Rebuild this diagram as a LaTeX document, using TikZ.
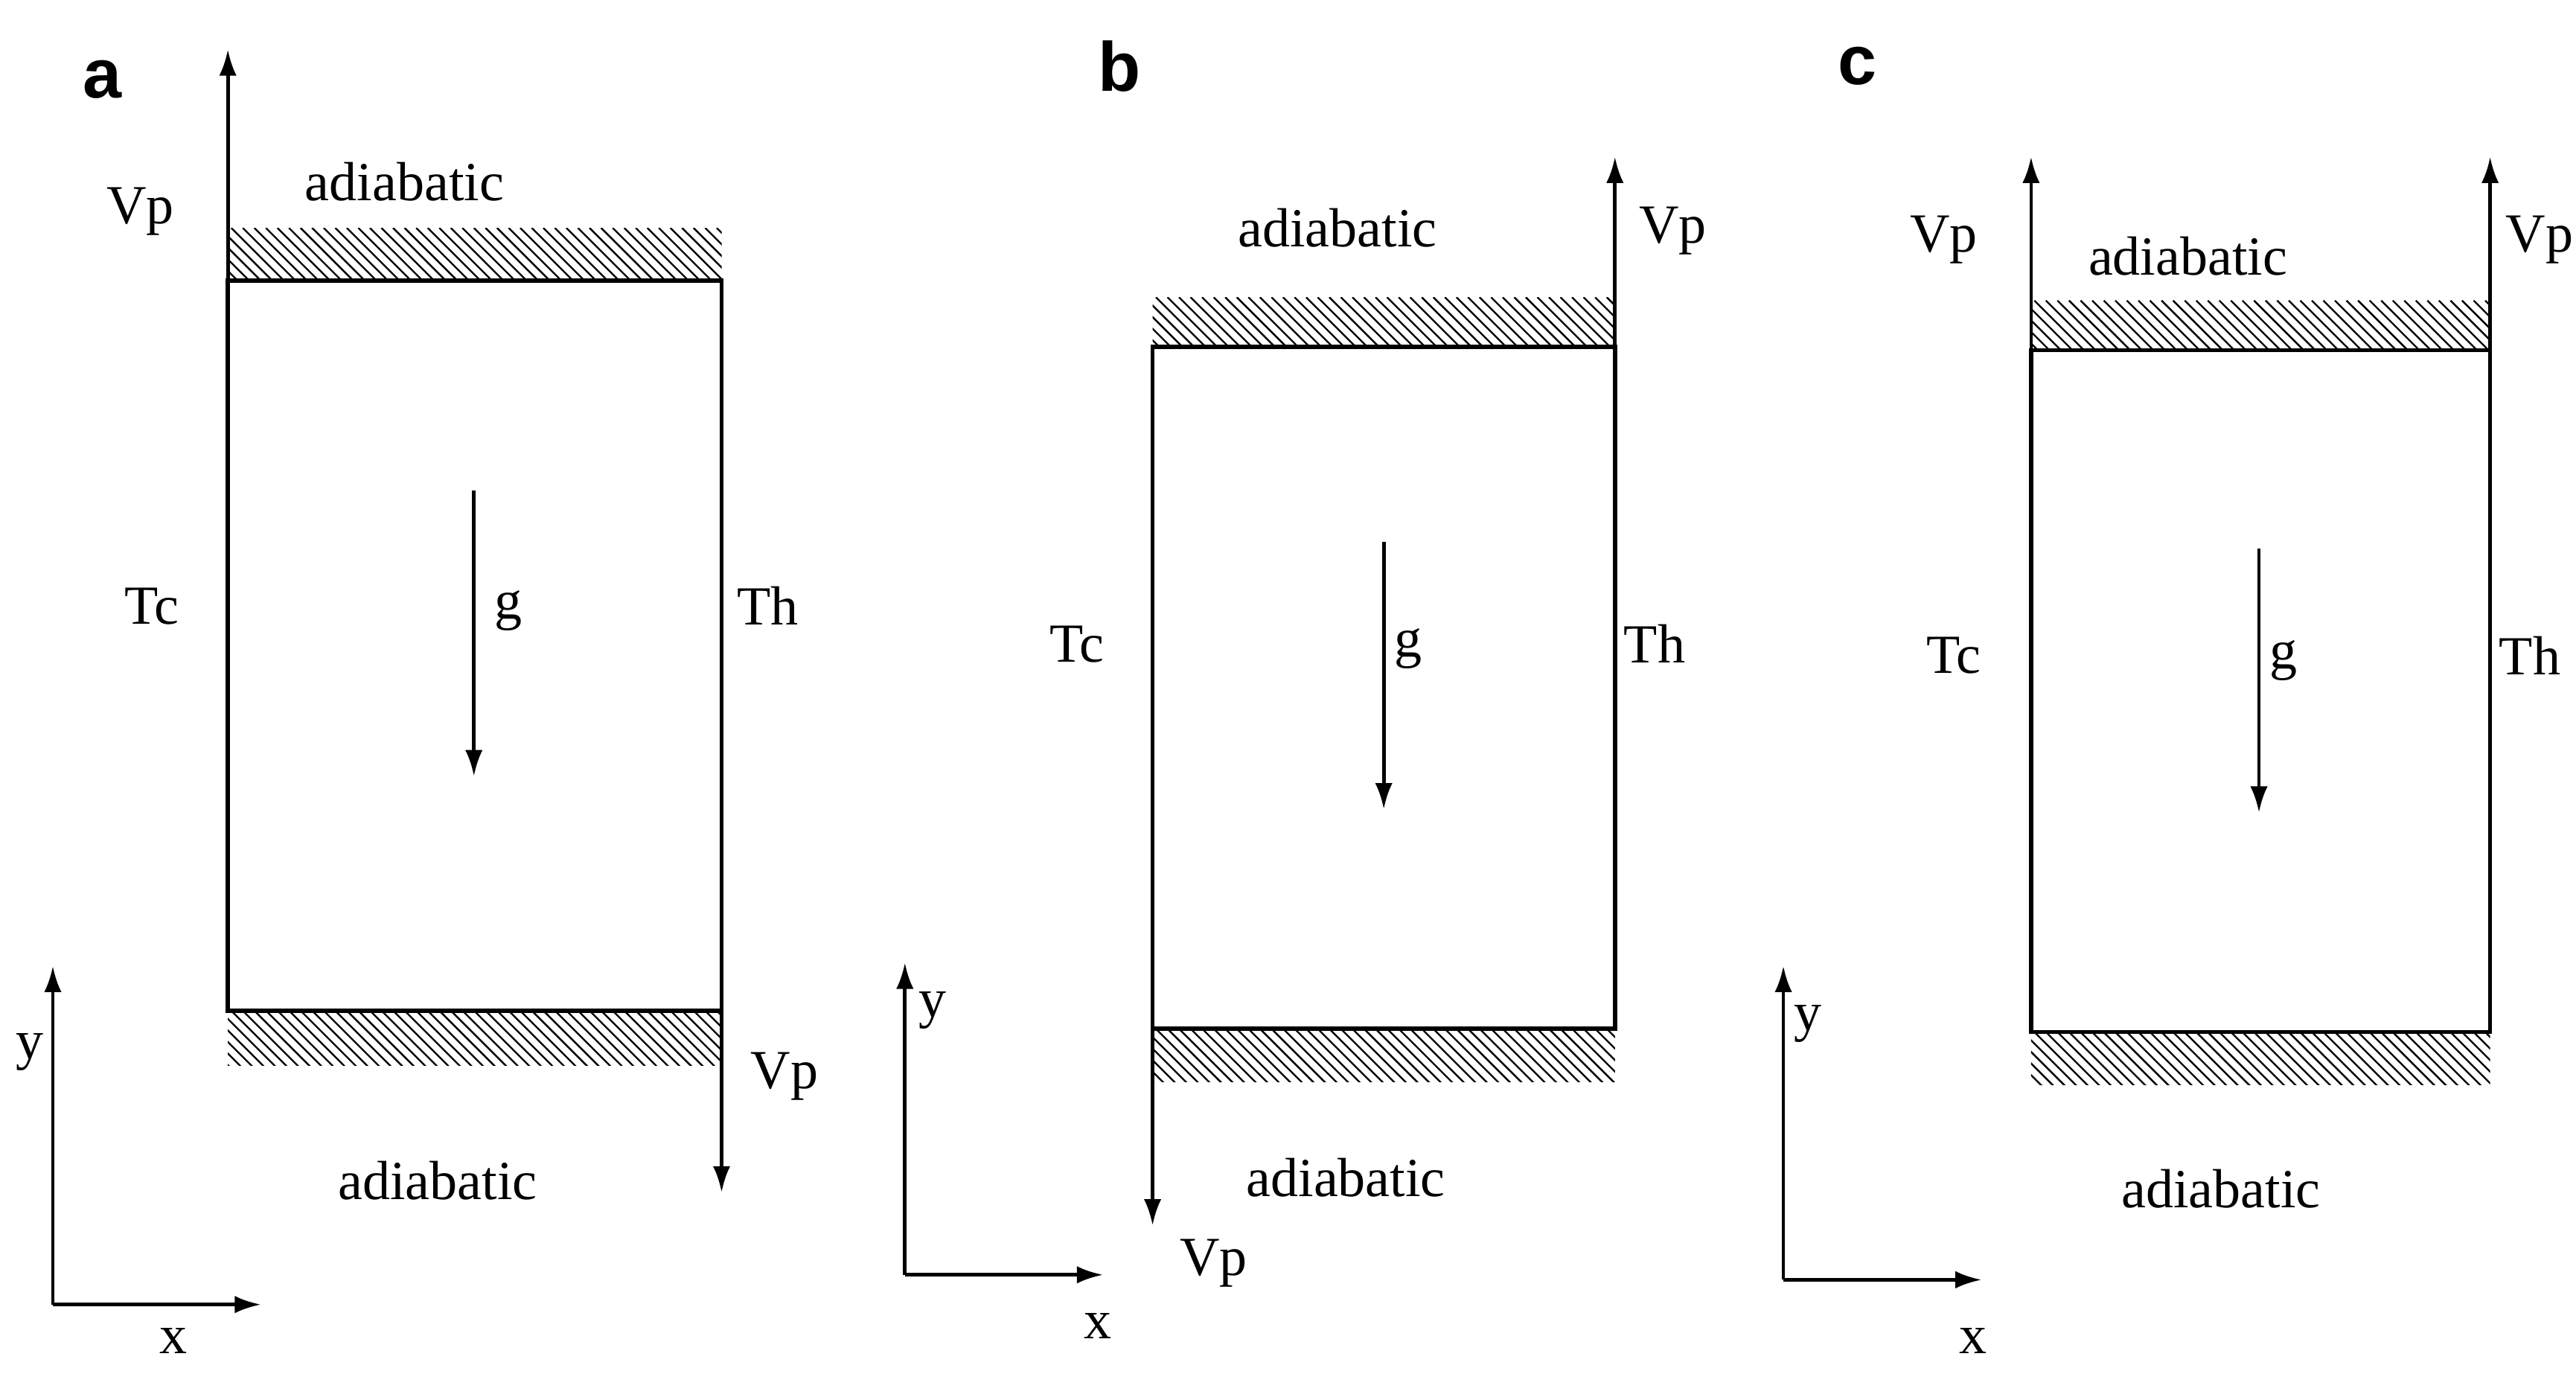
\documentclass[tikz,border=0pt]{standalone}
\usepackage{fontspec}
\setmainfont{Liberation Serif}
\newfontfamily\labfont{Liberation Sans}
\usetikzlibrary{arrows.meta}
\begin{document}
\begin{tikzpicture}[x=0.02cm,y=-0.02cm,
  wall/.style={line width=1.4pt},
  arr/.style={line width=1.2pt,-{Latex[length=9pt,width=6pt]}},
  lab/.style={font=\fontsize{19}{21}\selectfont},
  plab/.style={font=\labfont\bfseries\fontsize{24}{26}\selectfont}]
\useasboundingbox (0,0) rectangle (1560,832);
\newcommand{\hatchbox}[4]{%
  \begin{scope}
  \clip (#1,#2) rectangle (#3,#4);
  \foreach \i in {-40,-33,...,320} \draw[line width=0.6pt] (#1+\i,#2) -- ++(40,40);
  \end{scope}}
% panel a
\hatchbox{138}{138}{437}{170}
\hatchbox{138}{612}{437}{645}
\draw[wall] (138,170) -- (437,170) -- (437,612) -- (138,612) -- cycle;
\coordinate (aTL) at (138,170); \coordinate (aBR) at (437,612);
\coordinate (aVt) at (138,30); \coordinate (aVb) at (437,722);
\draw[arr] (aTL) -- (aVt);
\draw[arr] (aBR) -- (aVb);
\node[lab] (aV1) at (85,128) {Vp};
\node[lab] (aV2) at (475,652) {Vp};
\node[lab] (aad1) at (245,110) {adiabatic};
\node[lab] (aad2) at (265,715) {adiabatic};
\node[lab] (aTc) at (92,367) {Tc};
\node[lab] (aTh) at (465,367) {Th};
\coordinate (ag1) at (287,297); \coordinate (ag2) at (287,470);
\draw[arr] (ag1) -- (ag2);
\node[lab] (ag) at (308,370) {g};
\coordinate (ao) at (32,790); \coordinate (ay) at (32,585); \coordinate (ax) at (158,790);
\draw[arr] (ao) -- (ay); \draw[arr] (ao) -- (ax);
\node[lab] (ayl) at (18,637) {y};
\node[lab] (axl) at (105,812) {x};
\node[plab] (pa) at (62,48) {a};
% panel b
\hatchbox{698}{180}{978}{210}
\hatchbox{698}{623}{978}{655}
\draw[wall] (698,210) -- (978,210) -- (978,623) -- (698,623) -- cycle;
\coordinate (bTR) at (978,210); \coordinate (bBL) at (698,623);
\coordinate (bVt) at (978,95); \coordinate (bVb) at (698,742);
\draw[arr] (bTR) -- (bVt);
\draw[arr] (bBL) -- (bVb);
\node[lab] (bV1) at (1013,140) {Vp};
\node[lab] (bV2) at (735,765) {Vp};
\node[lab] (bad1) at (810,138) {adiabatic};
\node[lab] (bad2) at (815,713) {adiabatic};
\node[lab] (bTc) at (652,390) {Tc};
\node[lab] (bTh) at (1002,390) {Th};
\coordinate (bg1) at (838,328); \coordinate (bg2) at (838,490);
\draw[arr] (bg1) -- (bg2);
\node[lab] (bg) at (853,393) {g};
\coordinate (bo) at (548,772); \coordinate (by) at (548,583); \coordinate (bx) at (668,772);
\draw[arr] (bo) -- (by); \draw[arr] (bo) -- (bx);
\node[lab] (byl) at (565,612) {y};
\node[lab] (bxl) at (665,803) {x};
\node[plab] (pb) at (678,40) {b};
% panel c
\hatchbox{1230}{182}{1508}{212}
\hatchbox{1230}{625}{1508}{657}
\draw[wall] (1230,212) -- (1508,212) -- (1508,625) -- (1230,625) -- cycle;
\coordinate (cTL) at (1230,212); \coordinate (cTR) at (1508,212);
\coordinate (cV1t) at (1230,95); \coordinate (cV2t) at (1508,95);
\draw[arr] (cTL) -- (cV1t);
\draw[arr] (cTR) -- (cV2t);
\node[lab] (cV1) at (1177,145) {Vp};
\node[lab] (cV2) at (1538,145) {Vp};
\node[lab] (cad1) at (1325,155) {adiabatic};
\node[lab] (cad2) at (1345,720) {adiabatic};
\node[lab] (cTc) at (1183,397) {Tc};
\node[lab] (cTh) at (1532,397) {Th};
\coordinate (cg1) at (1368,332); \coordinate (cg2) at (1368,492);
\draw[arr] (cg1) -- (cg2);
\node[lab] (cg) at (1383,400) {g};
\coordinate (co) at (1080,775); \coordinate (cy) at (1080,585); \coordinate (cx) at (1200,775);
\draw[arr] (co) -- (cy); \draw[arr] (co) -- (cx);
\node[lab] (cyl) at (1095,620) {y};
\node[lab] (cxl) at (1195,812) {x};
\node[plab] (pc) at (1125,40) {c};
\end{tikzpicture}
\end{document}
